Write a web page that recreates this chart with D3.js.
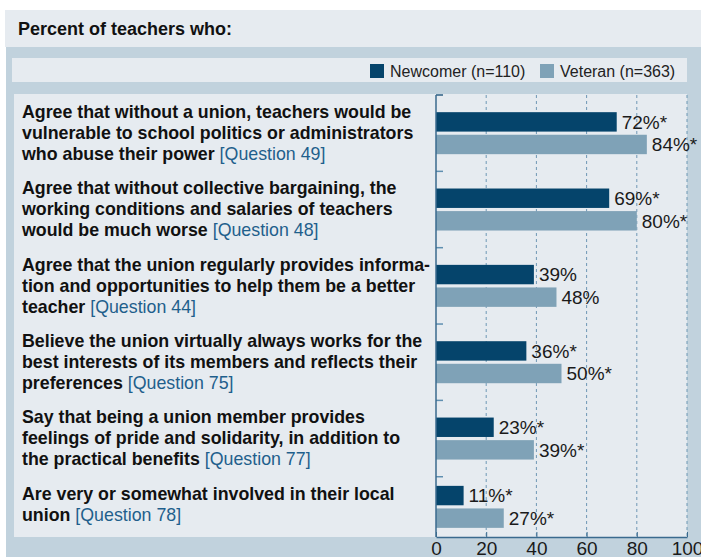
<!DOCTYPE html>
<html>
<head>
<meta charset="utf-8">
<script src="https://cdn.jsdelivr.net/npm/d3@7"></script>
<style>
  body { margin: 0; background: #fff; }
  svg { display: block; }
</style>
</head>
<body>
<div id="chart"></div>
<script>
// chart values
var categoryLines = [
  ["Agree that without a union, teachers would be", "vulnerable to school politics or administrators", "who abuse their power"],
  ["Agree that without collective bargaining, the", "working conditions and salaries of teachers", "would be much worse"],
  ["Agree that the union regularly provides informa-", "tion and opportunities to help them be a better", "teacher"],
  ["Believe the union virtually always works for the", "best interests of its members and reflects their", "preferences"],
  ["Say that being a union member provides", "feelings of pride and solidarity, in addition to", "the practical benefits"],
  ["Are very or somewhat involved in their local", "union"]
];
var questions = ["[Question 49]", "[Question 48]", "[Question 44]", "[Question 75]", "[Question 77]", "[Question 78]"];
var seriesNames = ["Newcomer (n=110)", "Veteran (n=363)"];
var newcomer = [72, 69, 39, 36, 23, 11];
var veteran = [84, 80, 48, 50, 39, 27];
var significant = [true, true, false, true, true, true];
var xTicks = [0, 20, 40, 60, 80, 100];
var title = "Percent of teachers who:";

var W = 701, H = 557;
var colors = {newcomer: "#05446b", veteran: "#7fa2b7"};
var font = "'Liberation Sans', Arial, Helvetica, sans-serif";

var svg = d3.select("#chart").append("svg")
  .attr("width", W)
  .attr("height", H)
  .style("font-family", font);

// background boxes
svg.append("rect").attr("x", 5).attr("y", 10).attr("width", W - 5).attr("height", 37).attr("fill", "#e6ebf0");
svg.append("rect").attr("x", 6).attr("y", 47).attr("width", W - 6).attr("height", H - 47).attr("fill", "#c1d2dd");
svg.append("rect").attr("x", 12).attr("y", 58).attr("width", 675).attr("height", 24).attr("fill", "#e6ebf0");
svg.append("rect").attr("x", 14).attr("y", 94).attr("width", 673).attr("height", 443).attr("fill", "#e6ebf0");

svg.append("text")
  .attr("x", 18).attr("y", 35)
  .style("font-weight", "bold")
  .style("font-size", "18px")
  .style("fill", "#111")
  .text(title);

// legend
var legendX = [370, 540];
seriesNames.forEach(function(name, i) {
  svg.append("rect")
    .attr("x", legendX[i]).attr("y", 64)
    .attr("width", 14).attr("height", 14)
    .attr("fill", i == 0 ? colors.newcomer : colors.veteran);
  svg.append("text")
    .attr("x", legendX[i] + 20).attr("y", 77)
    .style("font-size", "16px")
    .style("fill", "#222")
    .text(name);
});

// y layout: each category gets height according to its number of text lines
var units = categoryLines.map(function(l) { return l.length + 1.75; });
var starts = [];
var acc = 0;
units.forEach(function(u) { starts.push(acc); acc += u; });

var y = d3.scaleLinear().domain([0, acc]).range([95, 537]);
var x = d3.scaleLinear().domain([0, 100]).range([436, 687]);

var inner = d3.scaleBand()
  .domain(["newcomer", "veteran"])
  .range([-21, 21])
  .paddingInner(0.14);

// gridlines
svg.append("g")
  .selectAll("line")
  .data(xTicks.slice(1))
  .join("line")
  .attr("x1", d => x(d)).attr("x2", d => x(d))
  .attr("y1", y(0)).attr("y2", y(acc))
  .attr("stroke", "#6f98b5")
  .attr("stroke-width", 1)
  .attr("stroke-dasharray", "3,3");

// category rows
categoryLines.forEach(function(lines, i) {
  var top = y(starts[i]);
  var mid = (y(starts[i]) + y(starts[i] + units[i])) / 2;

  var label = svg.append("text")
    .style("font-weight", "bold")
    .style("font-size", "17.8px")
    .style("fill", "#111");
  lines.forEach(function(line, j) {
    label.append("tspan")
      .attr("x", 22)
      .attr("y", top + 23 + j * 21)
      .text(line);
    if (j == lines.length - 1) {
      label.append("tspan")
        .style("font-weight", "normal")
        .style("fill", "#1f5f8c")
        .text(" " + questions[i]);
    }
  });

  var vals = [["newcomer", newcomer[i]], ["veteran", veteran[i]]];
  vals.forEach(function(v) {
    svg.append("rect")
      .attr("x", x(0))
      .attr("y", mid + inner(v[0]))
      .attr("width", x(v[1]) - x(0))
      .attr("height", inner.bandwidth())
      .attr("fill", colors[v[0]]);
    svg.append("text")
      .attr("x", x(v[1]) + 5)
      .attr("y", mid + inner(v[0]) + inner.bandwidth() / 2)
      .attr("dy", "0.36em")
      .style("font-size", "19px")
      .style("fill", "#1a1a1a")
      .text(v[1] + "%" + (significant[i] ? "*" : ""));
  });

  // small tick at the top of each row
  svg.append("line")
    .attr("x1", x(0)).attr("x2", x(0) + 7)
    .attr("y1", top).attr("y2", top)
    .attr("stroke", i == 0 ? "#2d5f85" : "#5f8fb0")
    .attr("stroke-width", 1.5);
});

// left axis line
svg.append("line")
  .attr("x1", x(0)).attr("x2", x(0))
  .attr("y1", y(0)).attr("y2", y(acc))
  .attr("stroke", "#3a6a8e")
  .attr("stroke-width", 1.5);

// bottom axis
var xAxis = svg.append("g")
  .attr("transform", "translate(0," + y(acc) + ")")
  .call(d3.axisBottom(x).tickValues(xTicks).tickSize(-5).tickSizeOuter(0).tickPadding(5));
xAxis.select(".domain").attr("stroke", "#3a6a8e").attr("stroke-width", 1.5);
xAxis.selectAll(".tick line").attr("stroke", "#3a6a8e");
xAxis.selectAll(".tick text")
  .style("font-family", font)
  .style("font-size", "19px")
  .style("fill", "#1a1a1a");
</script>
</body>
</html>
